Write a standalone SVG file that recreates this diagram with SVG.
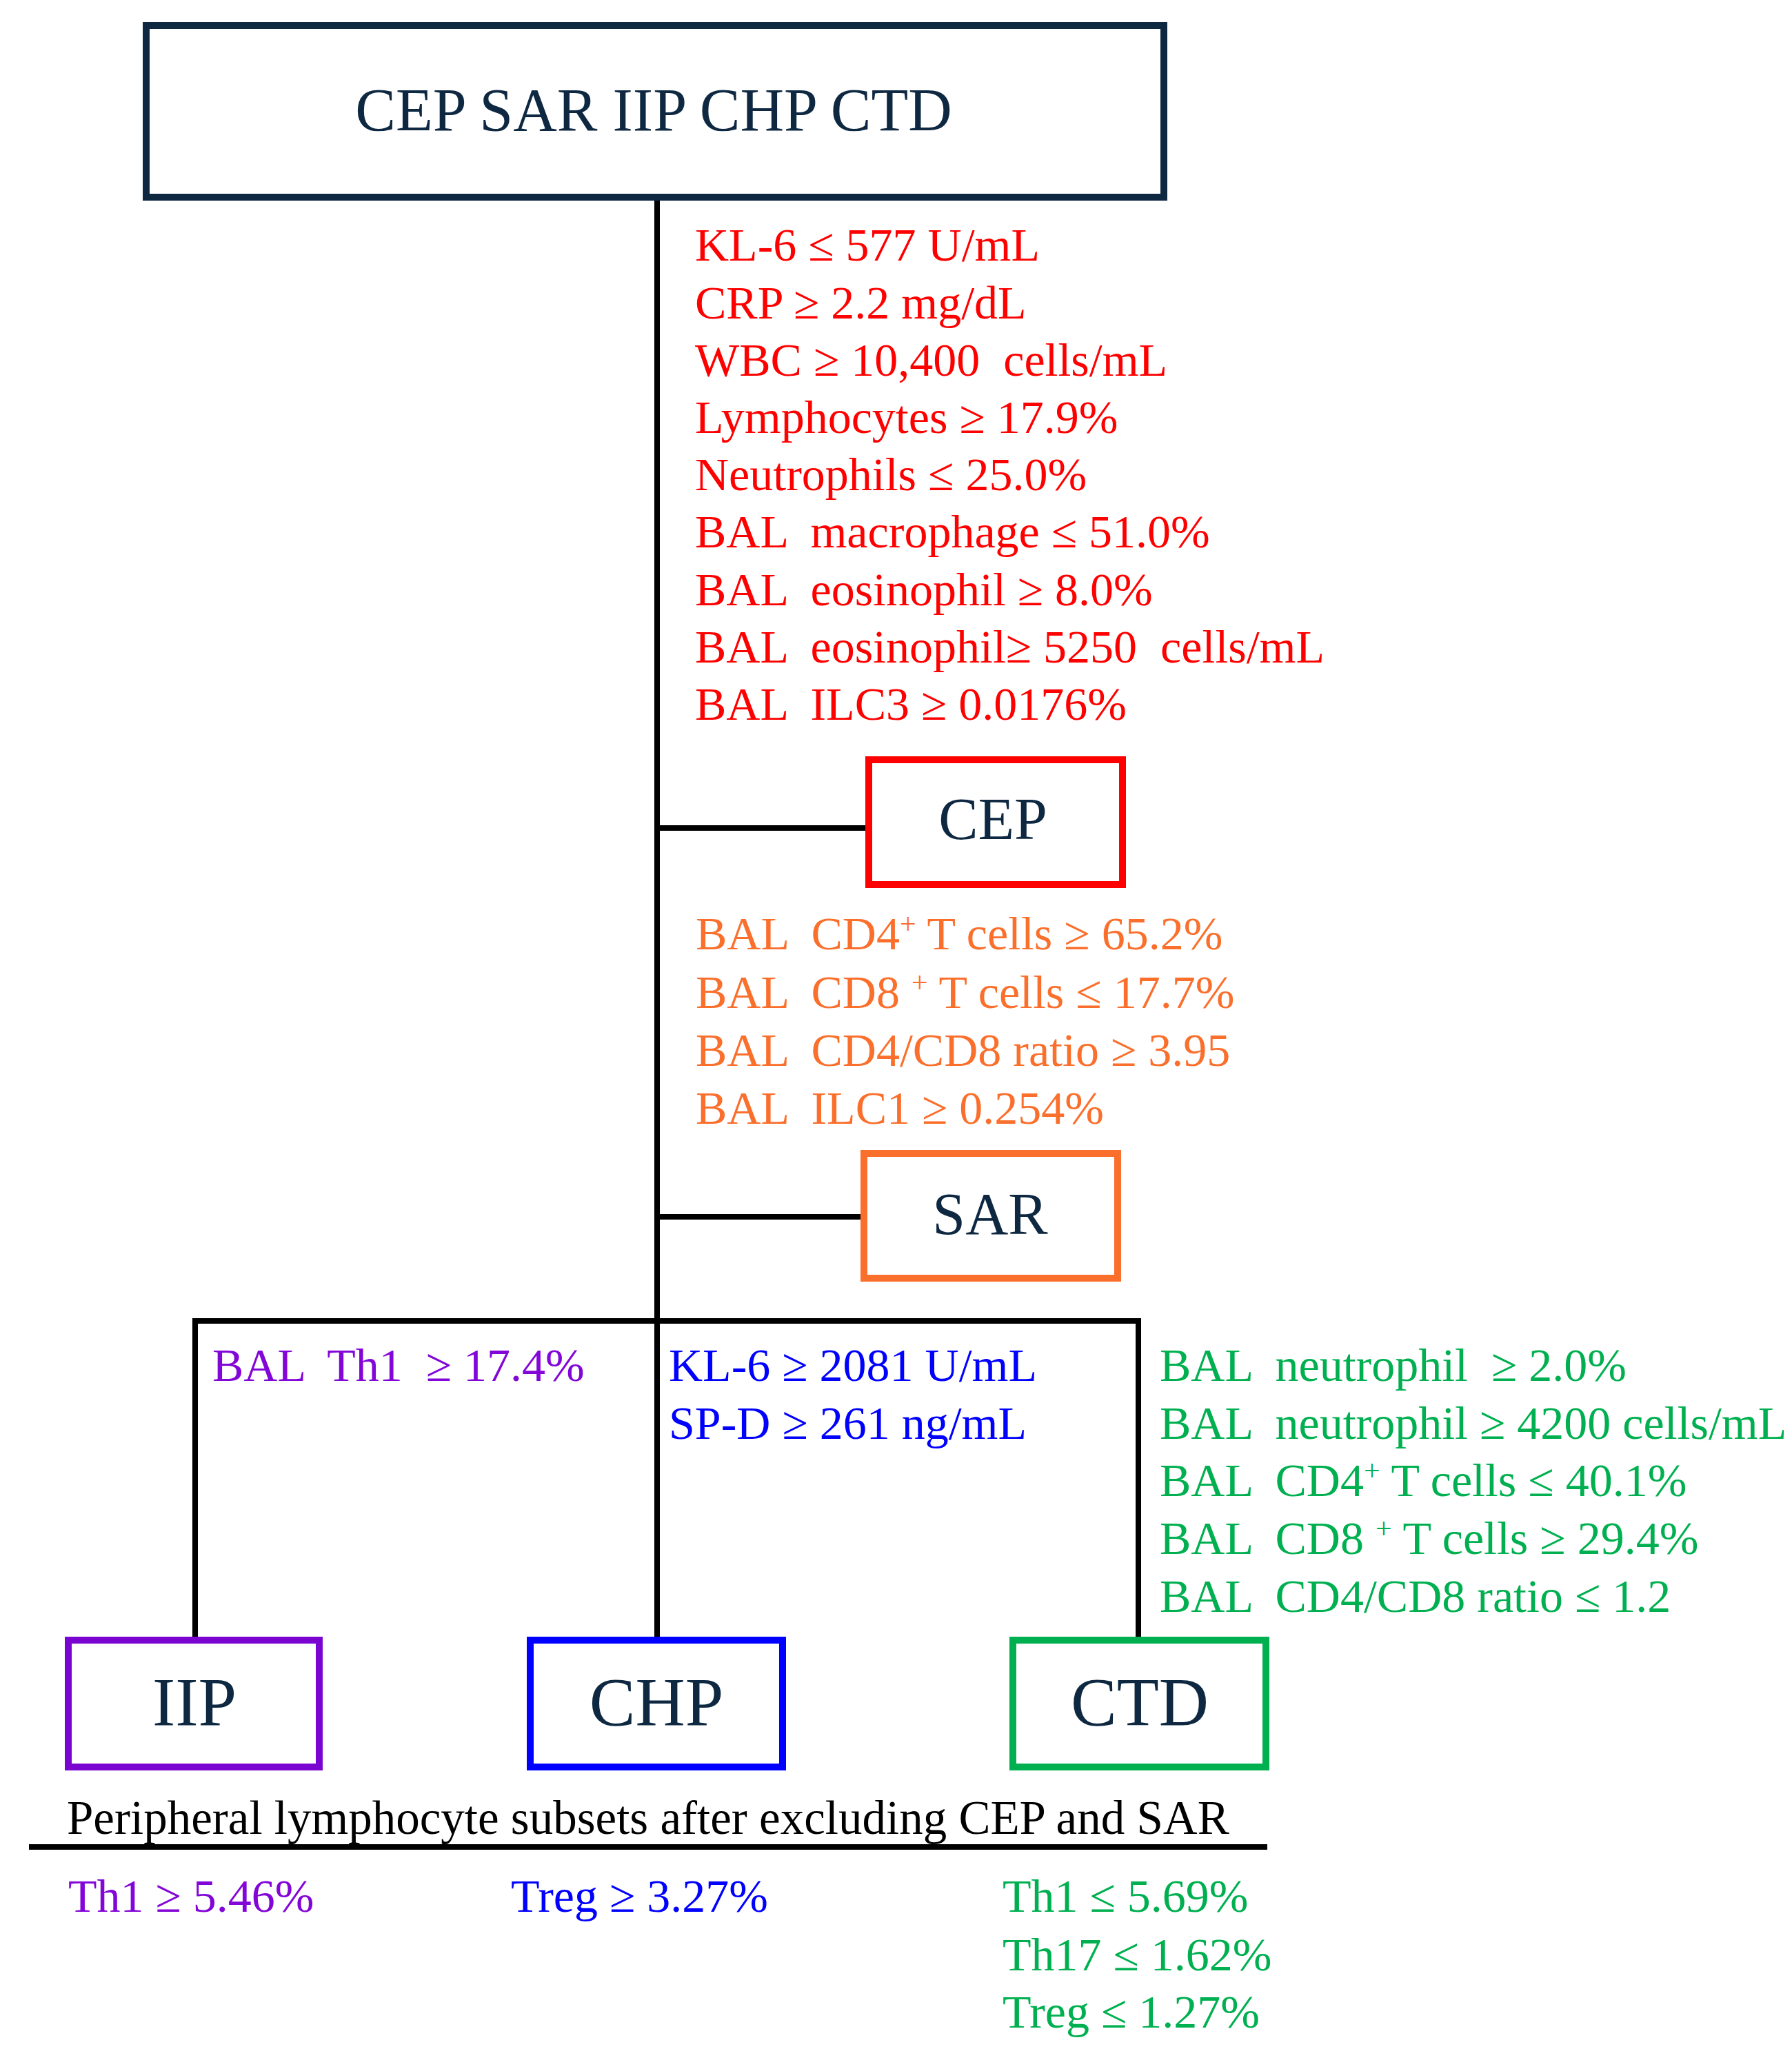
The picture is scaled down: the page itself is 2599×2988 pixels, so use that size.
<svg xmlns="http://www.w3.org/2000/svg" width="2599" height="2988" viewBox="0 0 2599 2988">
<style>
text{font-family:"Liberation Serif","Times New Roman",serif;white-space:pre;}
.box{fill:#ffffff;stroke-width:10;}
.lbl{fill:#0e2841;text-anchor:middle;}
.c{font-size:68px;}
.red{fill:#ff0000;}
.org{fill:#fb6f2c;}
.pur{fill:#8306d8;}
.blu{fill:#0000ff;}
.grn{fill:#00b050;}
.blk{fill:#000000;}
.ln{stroke:#000000;fill:none;stroke-width:8;}
</style>
<rect x="0" y="0" width="2599" height="2988" fill="#ffffff"/>
<g id="connectors">
<line class="ln" x1="953" y1="286" x2="953" y2="2380"/>
<line class="ln" x1="953" y1="1201" x2="1257" y2="1201"/>
<line class="ln" x1="953" y1="1765" x2="1250" y2="1765"/>
<line class="ln" x1="279" y1="1916" x2="1655" y2="1916"/>
<line class="ln" x1="283" y1="1912" x2="283" y2="2376"/>
<line class="ln" x1="1651" y1="1912" x2="1651" y2="2376"/>
<line class="ln" x1="42" y1="2679" x2="1838" y2="2679" stroke-width="6"/>
</g>
<g id="node-all">
<rect class="box" x="212" y="37" width="1476" height="249" stroke="#0e2841"/>
<text class="lbl" x="948" y="189" font-size="88">CEP SAR IIP CHP CTD</text>
</g>
<g id="node-cep">
<rect class="box" x="1260" y="1102" width="368" height="181" stroke="#ff0000"/>
<text class="lbl" x="1440" y="1217" font-size="86">CEP</text>
</g>
<g id="node-sar">
<rect class="box" x="1253" y="1673" width="368" height="181" stroke="#fb6f2c"/>
<text class="lbl" x="1436" y="1790" font-size="86">SAR</text>
</g>
<g id="node-iip">
<rect class="box" x="99" y="2379" width="364" height="184" stroke="#7a04d0"/>
<text class="lbl" x="282" y="2502" font-size="100">IIP</text>
</g>
<g id="node-chp">
<rect class="box" x="769" y="2379" width="366" height="184" stroke="#0000ff"/>
<text class="lbl" x="952" y="2502" font-size="100">CHP</text>
</g>
<g id="node-ctd">
<rect class="box" x="1469" y="2379" width="367" height="184" stroke="#00b050"/>
<text class="lbl" x="1653" y="2502" font-size="100">CTD</text>
</g>
<g id="labels-cep" class="c red">
<text xml:space="preserve" x="1008" y="378">KL-6 ≤ 577 U/mL</text>
<text xml:space="preserve" x="1008" y="462">CRP ≥ 2.2 mg/dL</text>
<text xml:space="preserve" x="1008" y="545">WBC ≥ 10,400  cells/mL</text>
<text xml:space="preserve" x="1008" y="628">Lymphocytes ≥ 17.9%</text>
<text xml:space="preserve" x="1008" y="711">Neutrophils ≤ 25.0%</text>
<text xml:space="preserve" x="1008" y="794">BAL  macrophage ≤ 51.0%</text>
<text xml:space="preserve" x="1008" y="878">BAL  eosinophil ≥ 8.0%</text>
<text xml:space="preserve" x="1008" y="961">BAL  eosinophil≥ 5250  cells/mL</text>
<text xml:space="preserve" x="1008" y="1044">BAL  ILC3 ≥ 0.0176%</text>
</g>
<g id="labels-sar" class="c org">
<text xml:space="preserve" x="1009" y="1377">BAL  CD4<tspan font-size="42" baseline-shift="super">+</tspan> T cells ≥ 65.2%</text>
<text xml:space="preserve" x="1009" y="1462">BAL  CD8 <tspan font-size="42" baseline-shift="super">+</tspan> T cells ≤ 17.7%</text>
<text xml:space="preserve" x="1009" y="1546">BAL  CD4/CD8 ratio ≥ 3.95</text>
<text xml:space="preserve" x="1009" y="1630">BAL  ILC1 ≥ 0.254%</text>
</g>
<g id="labels-iip" class="c pur">
<text xml:space="preserve" x="308" y="2003">BAL  Th1  ≥ 17.4%</text>
</g>
<g id="labels-chp" class="c blu">
<text xml:space="preserve" x="970" y="2003">KL-6 ≥ 2081 U/mL</text>
<text xml:space="preserve" x="970" y="2087">SP-D ≥ 261 ng/mL</text>
</g>
<g id="labels-ctd" class="c grn">
<text xml:space="preserve" x="1682" y="2003">BAL  neutrophil  ≥ 2.0%</text>
<text xml:space="preserve" x="1682" y="2087">BAL  neutrophil ≥ 4200 cells/mL</text>
<text xml:space="preserve" x="1682" y="2170">BAL  CD4<tspan font-size="42" baseline-shift="super">+</tspan> T cells ≤ 40.1%</text>
<text xml:space="preserve" x="1682" y="2254">BAL  CD8 <tspan font-size="42" baseline-shift="super">+</tspan> T cells ≥ 29.4%</text>
<text xml:space="preserve" x="1682" y="2338">BAL  CD4/CD8 ratio ≤ 1.2</text>
</g>
<g id="peripheral" class="c">
<text class="blk" x="97" y="2660" font-size="69">Peripheral lymphocyte subsets after excluding CEP and SAR</text>
<text class="pur" x="99" y="2773">Th1 ≥ 5.46%</text>
<text class="blu" x="741" y="2773">Treg ≥ 3.27%</text>
<text class="grn" x="1454" y="2773">Th1 ≤ 5.69%</text>
<text class="grn" x="1454" y="2858">Th17 ≤ 1.62%</text>
<text class="grn" x="1454" y="2941">Treg ≤ 1.27%</text>
</g>
</svg>
